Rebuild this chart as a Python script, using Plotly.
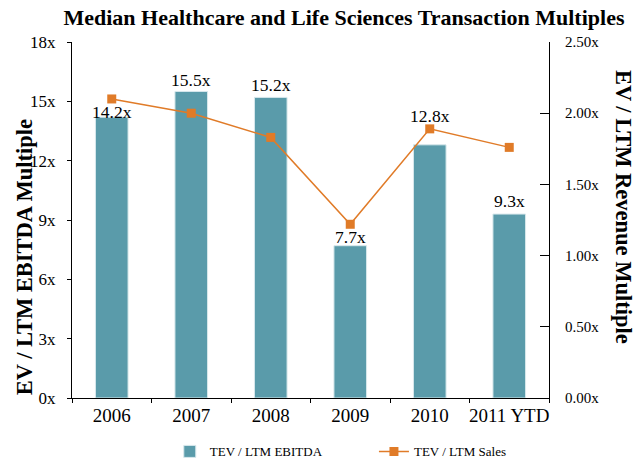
import plotly.graph_objects as go

categories = ["2006", "2007", "2008", "2009", "2010", "2011 YTD"]
ebitda = [14.2, 15.5, 15.2, 7.7, 12.8, 9.3]
sales = [2.10, 2.00, 1.83, 1.22, 1.89, 1.76]
ebitda_labels = ["14.2x", "15.5x", "15.2x", "7.7x", "12.8x", "9.3x"]
label_shift = [5, 11, 12, 9, 29, 13]  # pixel offsets of labels above bar tops

FONT = "Liberation Serif, Times New Roman, serif"

fig = go.Figure()
fig.add_trace(go.Bar(
    x=categories, y=ebitda, name="TEV / LTM EBITDA",
    marker=dict(color="#5A9BAA", line=dict(color="#d8e8ec", width=1)),
    width=0.41, legend="legend",
))
fig.add_trace(go.Scatter(
    x=categories, y=sales, name="TEV / LTM Sales", yaxis="y2",
    mode="lines+markers",
    line=dict(color="#E07B28", width=1.5),
    marker=dict(symbol="square", size=9, color="#E07B28"),
    legend="legend2",
))

for i, (v, t, s) in enumerate(zip(ebitda, ebitda_labels, label_shift)):
    fig.add_annotation(x=i, y=v, xref="x", yref="y", text=t, showarrow=False,
                       yanchor="middle", yshift=s,
                       font=dict(family=FONT, size=17.5, color="black"))

# axis titles placed as annotations (offset as in the reference)
fig.add_annotation(text="<b>EV / LTM EBITDA Multiple</b>", xref="paper", yref="paper",
                   x=-0.1, y=0.396, textangle=-90, showarrow=False,
                   xanchor="center", yanchor="middle",
                   font=dict(family=FONT, size=22.5, color="black"))
fig.add_annotation(text="<b>EV / LTM Revenue Multiple</b>", xref="paper", yref="paper",
                   x=1.155, y=0.537, textangle=90, showarrow=False,
                   xanchor="center", yanchor="middle",
                   font=dict(family=FONT, size=22.5, color="black"))

legend_common = dict(orientation="h", xanchor="left", y=-0.108, yanchor="top",
                     font=dict(family=FONT, size=13, color="black"),
                     bgcolor="rgba(0,0,0,0)")

fig.update_layout(
    width=637, height=461,
    margin=dict(l=72, r=88, t=42, b=63, autoexpand=False),
    paper_bgcolor="white", plot_bgcolor="white",
    font=dict(family=FONT, size=18, color="black"),
    title=dict(text="<b>Median Healthcare and Life Sciences Transaction Multiples</b>",
               x=0.54, xanchor="center", y=0.962, yanchor="middle",
               font=dict(family=FONT, size=22, color="black")),
    showlegend=True,
    legend=dict(x=0.205, **legend_common),
    legend2=dict(x=0.633, **legend_common),
    xaxis=dict(type="category",
               showline=True, linecolor="black", linewidth=1,
               ticks="outside", tickson="boundaries", ticklen=4, tickcolor="black",
               showgrid=False, tickfont=dict(family=FONT, size=19),
               tickangle=0, automargin=False),
    yaxis=dict(range=[0, 18], tickvals=[0, 3, 6, 9, 12, 15, 18],
               ticktext=["0x", "3x", "6x", "9x", "12x", "15x", "18x"],
               showline=True, linecolor="black", linewidth=1, ticks="outside",
               ticklen=4, tickcolor="black", showgrid=False, zeroline=False,
               ticklabelstandoff=8,
               tickfont=dict(family=FONT, size=17), automargin=False),
    yaxis2=dict(range=[0, 2.5], tickvals=[0, 0.5, 1.0, 1.5, 2.0, 2.5],
                ticktext=["0.00x", "0.50x", "1.00x", "1.50x", "2.00x", "2.50x"],
                overlaying="y", side="right",
                showline=True, linecolor="black", linewidth=1, ticks="inside",
                ticklen=9, tickcolor="black", showgrid=False, zeroline=False,
                ticklabelstandoff=12,
                tickfont=dict(family=FONT, size=15), automargin=False),
)

fig.write_html("out.html", config={"displayModeBar": False},
               post_script="document.body.style.margin='0px';")
